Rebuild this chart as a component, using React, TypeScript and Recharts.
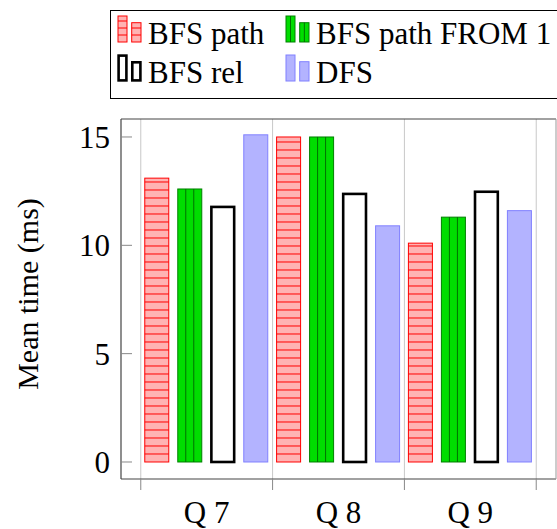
import React from 'react';
import { ComposedChart, Bar, XAxis, YAxis, ReferenceLine, Legend, Label } from 'recharts';

const categories = ['Q 7', 'Q 8', 'Q 9'];
const seriesNames = ['BFS path', 'BFS path FROM 1', 'BFS rel', 'DFS'];
const bfsPath = [13.1, 15.0, 10.1];
const bfsPathFrom1 = [12.6, 15.0, 11.3];
const bfsRel = [11.8, 12.4, 12.5];
const dfs = [15.1, 10.9, 11.6];
const yTicks = [0, 5, 10, 15];
const yDomain: [number, number] = [-0.785, 15.83];

const PAD = 0.15;
const bounds = categories.map((_, i) => i - 0.5).concat([categories.length - 0.5]);
const xDomain: [number, number] = [-0.5 - PAD, categories.length - 0.5 + PAD];
const bottomTicks = [...bounds, ...categories.map((_, i) => i)].sort((a, b) => a - b);

const data = categories.map((c, i) => ({
  pos: i,
  name: c,
  bfsPath: bfsPath[i],
  bfsPathFrom1: bfsPathFrom1[i],
  bfsRel: bfsRel[i],
  dfs: dfs[i],
}));

const FONT = "'Liberation Serif', 'Times New Roman', serif";
const FS = 31;
const AXIS = '#444';
const TICK = '#888';
const GRID = '#c8c8c8';

const RedShape = (p: any) => {
  const { x, y, width, height } = p;
  const lines: any[] = [];
  for (let d = 8; d < height; d += 8) {
    lines.push(
      <line key={d} x1={x} x2={x + width} y1={y + height - d} y2={y + height - d} stroke="#ff0000" strokeWidth={1} />
    );
  }
  return (
    <g>
      <rect x={x} y={y} width={width} height={height} fill="#ffb3b3" stroke="#ff0000" strokeWidth={1} />
      {lines}
    </g>
  );
};

const GreenShape = (p: any) => {
  const { x, y, width, height } = p;
  return (
    <g>
      <rect x={x} y={y} width={width} height={height} fill="#00dd00" stroke="#008000" strokeWidth={1} />
      <line x1={x + width / 3} x2={x + width / 3} y1={y} y2={y + height} stroke="#007000" strokeWidth={1} />
      <line x1={x + (2 * width) / 3} x2={x + (2 * width) / 3} y1={y} y2={y + height} stroke="#007000" strokeWidth={1} />
    </g>
  );
};

const BlackShape = (p: any) => {
  const { x, y, width, height } = p;
  return <rect x={x + 0.6} y={y + 0.6} width={width - 1.2} height={height - 0.6} fill="#ffffff" stroke="#000" strokeWidth={2.6} />;
};

const BlueShape = (p: any) => {
  const { x, y, width, height } = p;
  return <rect x={x} y={y} width={width} height={height} fill="#b3b3ff" stroke="#8080ff" strokeWidth={1} />;
};

const BottomTick = (p: any) => {
  const { x, y, payload } = p;
  const v = payload.value;
  if (Number.isInteger(v)) {
    return (
      <text x={x} y={y} dy={44} textAnchor="middle" fontSize={FS} fontFamily={FONT} fill="#000">
        {categories[v]}
      </text>
    );
  }
  return <line x1={x} x2={x} y1={y} y2={y + 11} stroke={TICK} strokeWidth={1} />;
};

const YLabel = (props: any) => {
  const vb = props.viewBox || { x: 0, y: 119, width: 121, height: 360 };
  const cx = vb.x + 38;
  const cy = vb.y + vb.height / 2 - 5;
  return (
    <text x={cx} y={cy} transform={`rotate(-90 ${cx} ${cy})`} textAnchor="middle" fontSize={30} fontFamily={FONT} fill="#000">
      Mean time (ms)
    </text>
  );
};

const LegendIcon = ({ kind, x, y }: { kind: number; x: number; y: number }) => {
  const b1 = { x: x, y: y, w: 9, h: 26 };
  const b2 = { x: x + 13.7, y: y + 6.7, w: 9.3, h: 19.3 };
  const bottom = y + 26;
  const bars = [b1, b2];
  return (
    <g>
      {bars.map((b, i) => {
        if (kind === 0) {
          const ls: any[] = [];
          for (let yy = bottom - 7; yy > b.y; yy -= 7) {
            ls.push(<line key={yy} x1={b.x} x2={b.x + b.w} y1={yy} y2={yy} stroke="#ff0000" strokeWidth={1} />);
          }
          return (
            <g key={i}>
              <rect x={b.x} y={b.y} width={b.w} height={b.h} fill="#ffb3b3" stroke="#ff0000" strokeWidth={1} />
              {ls}
            </g>
          );
        }
        if (kind === 1) {
          return (
            <g key={i}>
              <rect x={b.x} y={b.y} width={b.w} height={b.h} fill="#00dd00" stroke="#008000" strokeWidth={1} />
              <line x1={b.x + b.w / 2} x2={b.x + b.w / 2} y1={b.y} y2={b.y + b.h} stroke="#007000" strokeWidth={1} />
            </g>
          );
        }
        if (kind === 2) {
          return <rect key={i} x={b.x + 0.6} y={b.y + 0.6} width={b.w - 1.2} height={b.h - 1.2} fill="#fff" stroke="#000" strokeWidth={2.6} />;
        }
        return <rect key={i} x={b.x} y={b.y} width={b.w} height={b.h} fill="#b3b3ff" stroke="#8080ff" strokeWidth={1} />;
      })}
    </g>
  );
};

const LegendBox = () => {
  const cols = [7, 175];
  const rows = [5, 44];
  const textDx = 30;
  const baseDy = 27.5;
  return (
    <div
      style={{
        width: 470,
        height: 87,
        border: '1px solid #000',
        background: '#fff',
        boxSizing: 'content-box',
      }}
    >
      <svg width={470} height={87} style={{ display: 'block' }}>
        {seriesNames.map((n, i) => {
          const cx = cols[i % 2];
          const ry = rows[Math.floor(i / 2)];
          return (
            <g key={n}>
              <LegendIcon kind={i} x={cx} y={ry} />
              <text x={cx + textDx} y={ry + baseDy} fontSize={FS} fontFamily={FONT} fill="#000">
                {n}
              </text>
            </g>
          );
        })}
      </svg>
    </div>
  );
};

export default function App() {
  return (
    <div style={{ position: 'absolute', left: 0, top: 0, width: 557, height: 529, overflow: 'hidden', background: '#fff' }}>
      <ComposedChart
        width={557}
        height={529}
        data={data}
        margin={{ top: 118, right: 0, bottom: 0, left: 0 }}
        barGap={9}
        barSize={24}
      >
        <XAxis
          dataKey="pos"
          type="number"
          domain={xDomain}
          allowDataOverflow
          ticks={bottomTicks}
          interval={0}
          height={50}
          tickSize={0}
          tickMargin={0}
          tickLine={false}
          tick={BottomTick}
          axisLine={{ stroke: AXIS, strokeWidth: 1.2 }}
        />
        <XAxis
          xAxisId="top"
          orientation="top"
          type="number"
          domain={xDomain}
          allowDataOverflow
          ticks={bounds}
          interval={0}
          height={1}
          tickSize={11}
          tick={false}
          tickLine={{ stroke: TICK, strokeWidth: 1 }}
          axisLine={{ stroke: AXIS, strokeWidth: 1.2 }}
        />
        <YAxis
          type="number"
          domain={yDomain}
          allowDataOverflow
          ticks={yTicks}
          interval={0}
          width={121}
          tickSize={-11}
          tickMargin={22}
          tickLine={{ stroke: TICK, strokeWidth: 1 }}
          axisLine={{ stroke: AXIS, strokeWidth: 1.2 }}
          tick={{ fontSize: FS, fontFamily: FONT, fill: '#000' }}
        >
          <Label content={YLabel} />
        </YAxis>
        <YAxis
          yAxisId="right"
          orientation="right"
          type="number"
          domain={yDomain}
          allowDataOverflow
          ticks={yTicks}
          interval={0}
          width={1}
          tickSize={-11}
          tick={false}
          tickLine={{ stroke: TICK, strokeWidth: 1 }}
          axisLine={{ stroke: '#999', strokeWidth: 1 }}
        />
        {bounds.map((b) => (
          <ReferenceLine key={b} x={b} stroke={GRID} strokeWidth={1} />
        ))}
        <Bar dataKey="bfsPath" name={seriesNames[0]} barSize={24} shape={RedShape} isAnimationActive={false} />
        <Bar dataKey="bfsPathFrom1" name={seriesNames[1]} barSize={24} shape={GreenShape} isAnimationActive={false} />
        <Bar dataKey="bfsRel" name={seriesNames[2]} barSize={24} shape={BlackShape} isAnimationActive={false} />
        <Bar dataKey="dfs" name={seriesNames[3]} barSize={24} shape={BlueShape} isAnimationActive={false} />
        <Legend
          layout="horizontal"
          verticalAlign="middle"
          align="center"
          content={LegendBox}
          wrapperStyle={{ left: 110, top: 10, width: 472, height: 89 }}
        />
      </ComposedChart>
    </div>
  );
}
